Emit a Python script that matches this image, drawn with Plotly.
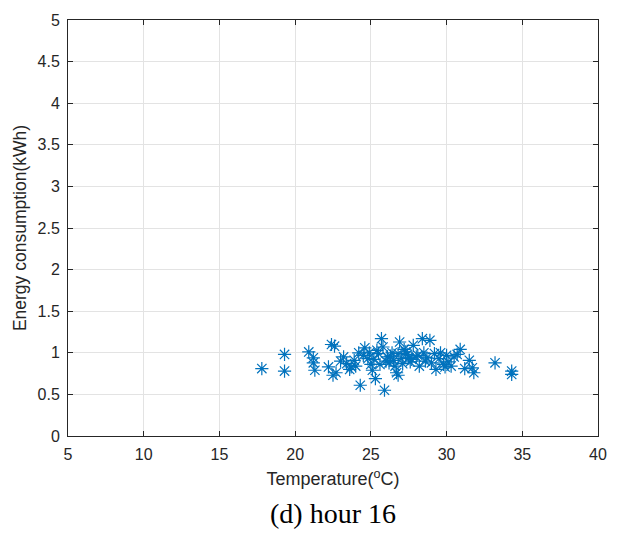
import plotly.graph_objects as go

temperature = [17.8, 19.3, 19.3, 20.9, 21.2, 21.3, 21.2, 22.4, 22.2, 22.5, 22.7, 22.6,
               23.2, 23.4, 23.7, 23.9, 24.3, 24.2, 24.6, 24.8, 25.0, 25.1, 25.3, 25.4,
               25.7, 25.8, 25.9, 26.1, 26.2, 26.4, 26.6, 26.7, 26.8, 26.9, 27.0, 27.2,
               27.4, 27.6, 27.8, 28.0, 28.2, 28.4, 28.5, 28.7, 28.9, 29.0, 29.2, 29.3,
               29.5, 29.8, 30.0, 30.3, 30.5, 30.9, 31.2, 31.5, 31.7, 31.8, 33.2, 34.3,
               34.3, 23.0, 24.0, 24.5, 25.2, 25.5, 26.0, 26.3, 26.5, 27.1, 27.3, 27.7,
               28.1, 28.6, 29.6, 30.1, 25.6, 26.8, 27.5, 24.9, 23.6, 29.9, 30.7]
energy = [0.81, 0.98, 0.78, 1.01, 0.94, 0.79, 0.88, 1.10, 0.83, 0.73, 0.76, 1.08,
          0.95, 0.87, 0.83, 0.91, 0.61, 1.00, 1.06, 0.93, 0.86, 0.79, 0.69, 1.03,
          1.17, 1.07, 0.55, 0.95, 0.88, 1.00, 0.84, 0.76, 0.73, 1.13, 0.93, 1.04,
          0.98, 0.89, 1.09, 0.95, 0.84, 1.17, 1.00, 0.94, 1.15, 0.88, 0.99, 0.80,
          0.93, 0.86, 0.97, 0.84, 0.95, 1.04, 0.81, 0.91, 0.82, 0.76, 0.88, 0.78,
          0.74, 0.90, 0.84, 0.97, 0.92, 0.99, 0.90, 0.96, 0.91, 0.87, 1.01, 0.92,
          0.97, 0.90, 1.00, 0.89, 0.86, 0.99, 0.94, 1.00, 0.80, 0.83, 0.98]

x_ticks = [5, 10, 15, 20, 25, 30, 35, 40]
y_ticks = [0, 0.5, 1, 1.5, 2, 2.5, 3, 3.5, 4, 4.5, 5]
y_ticktext = ["0", "0.5", "1", "1.5", "2", "2.5", "3", "3.5", "4", "4.5", "5"]

fig = go.Figure()
fig.add_trace(go.Scatter(
    x=temperature, y=energy, mode="markers",
    marker=dict(symbol="asterisk-open", size=11, color="#0072BD",
                line=dict(color="#0072BD", width=1.2)),
    showlegend=False))

axis_common = dict(showline=True, linecolor="#262626", linewidth=1, mirror="ticks",
                   ticks="inside", ticklen=5, tickcolor="#262626",
                   showgrid=True, gridcolor="#e3e3e3", gridwidth=1, zeroline=False,
                   ticklabelstandoff=4,
                   tickfont=dict(family="Liberation Sans, Arial", size=16, color="#262626"))

fig.update_xaxes(range=[5, 40], tickvals=x_ticks, **axis_common,
                 title=dict(text="Temperature(<sup>o</sup>C)",
                            font=dict(family="Liberation Sans, Arial", size=18, color="#262626"),
                            standoff=10))
fig.update_yaxes(range=[0, 5], tickvals=y_ticks, ticktext=y_ticktext, **axis_common,
                 title=dict(text="Energy consumption(kWh)",
                            font=dict(family="Liberation Sans, Arial", size=17.5, color="#262626"),
                            standoff=6))

fig.add_annotation(text="(d) hour 16", xref="paper", yref="paper", x=0.5, y=-0.186,
                   xanchor="center", yanchor="middle", showarrow=False,
                   font=dict(family="Liberation Serif, DejaVu Serif", size=28, color="#000000"))

fig.update_layout(width=619, height=538, plot_bgcolor="white", paper_bgcolor="white",
                  margin=dict(l=68, r=19, t=17, b=102))

fig.write_html("out.html")
